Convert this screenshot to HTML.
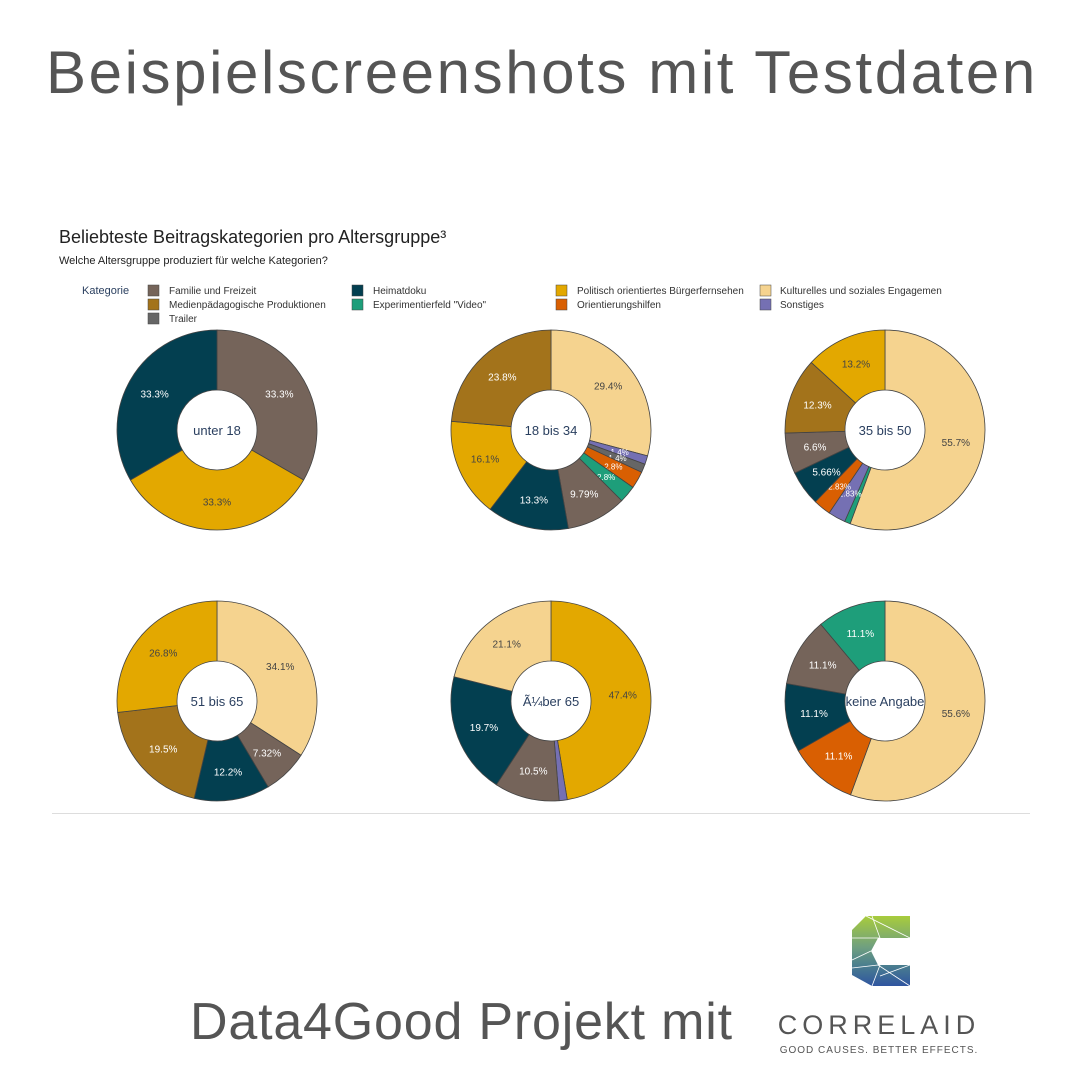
<!DOCTYPE html>
<html><head><meta charset="utf-8"><style>
body{margin:0;width:1080px;height:1080px;background:#fff;position:relative;overflow:hidden;font-family:"Liberation Sans",sans-serif}
.t{position:absolute;color:#555;white-space:nowrap}
</style></head><body>
<div class="t" style="left:46px;top:38px;font-size:60px;letter-spacing:2.6px">Beispielscreenshots mit Testdaten</div>
<div class="t" style="left:190px;top:992px;font-size:52px;letter-spacing:0.8px">Data4Good Projekt mit</div>
<svg id="s" width="1080" height="1080" style="position:absolute;left:0;top:0" font-family="Liberation Sans, sans-serif">
<defs><linearGradient id="lg" x1="0" y1="0" x2="0" y2="1"><stop offset="0" stop-color="#a8cc3c"/><stop offset="0.45" stop-color="#6f9f80"/><stop offset="0.7" stop-color="#4b7f8e"/><stop offset="1" stop-color="#2f55a0"/></linearGradient></defs>
<text x="59" y="243" font-size="18" fill="#222">Beliebteste Beitragskategorien pro Altersgruppe³</text>
<text x="59" y="264" font-size="11" fill="#222">Welche Altersgruppe produziert für welche Kategorien?</text>
<g font-size="10" fill="#333">
<text x="82" y="294" font-size="11" fill="#2a3f5f">Kategorie</text>
<rect x="148" y="285" width="11" height="11" fill="#75645a" stroke="#444" stroke-width=".5"/><text x="169" y="294">Familie und Freizeit</text>
<rect x="148" y="299" width="11" height="11" fill="#a3731b" stroke="#444" stroke-width=".5"/><text x="169" y="308">Medienpädagogische Produktionen</text>
<rect x="148" y="313" width="11" height="11" fill="#666" stroke="#444" stroke-width=".5"/><text x="169" y="322">Trailer</text>
<rect x="352" y="285" width="11" height="11" fill="#033f50" stroke="#444" stroke-width=".5"/><text x="373" y="294">Heimatdoku</text>
<rect x="352" y="299" width="11" height="11" fill="#1e9e7a" stroke="#444" stroke-width=".5"/><text x="373" y="308">Experimentierfeld "Video"</text>
<rect x="556" y="285" width="11" height="11" fill="#e3a800" stroke="#444" stroke-width=".5"/><text x="577" y="294">Politisch orientiertes Bürgerfernsehen</text>
<rect x="556" y="299" width="11" height="11" fill="#d95f02" stroke="#444" stroke-width=".5"/><text x="577" y="308">Orientierungshilfen</text>
<rect x="760" y="285" width="11" height="11" fill="#f5d38f" stroke="#444" stroke-width=".5"/><text x="780" y="294">Kulturelles und soziales Engagemen</text>
<rect x="760" y="299" width="11" height="11" fill="#7570b3" stroke="#444" stroke-width=".5"/><text x="780" y="308">Sonstiges</text>
</g>
<line x1="52" y1="813.5" x2="1030" y2="813.5" stroke="#ddd"/>
<g id="pies"></g>
<polygon points="866,916 910,916 910,938 878,938 871,951 878,965 910,965 910,986 872,986 852,975 852,930" fill="url(#lg)"/>
<g stroke="#fff" stroke-width="0.8" fill="none">
<path d="M872,916 L880,938 M866,916 L910,938 M852,938 L880,938 M852,960 L871,951 M852,968 L878,965 M880,965 L872,986 M880,976 L910,965 M878,965 L910,986"/>
</g>
<text x="879" y="1034" font-size="27" fill="#555" text-anchor="middle" letter-spacing="5">CORRELAID</text>
<text x="879" y="1053" font-size="10" fill="#555" text-anchor="middle" letter-spacing="1">GOOD CAUSES. BETTER EFFECTS.</text>
</svg>
<script>
const C={fam:"#75645a",hei:"#033f50",pol:"#e3a800",kul:"#f5d38f",med:"#a3731b",exp:"#1e9e7a",ori:"#d95f02",son:"#7570b3",tra:"#666"};
const dark={fam:1,hei:1,med:1,exp:1,ori:1,son:1,tra:1};
const pies=[
[217,430,"unter 18",[["fam",33.3,"33.3%"],["pol",33.3,"33.3%"],["hei",33.3,"33.3%"]]],
[551,430,"18 bis 34",[["kul",29.4,"29.4%"],["son",1.4,"1.4%"],["tra",1.4,"1.4%"],["ori",2.8,"2.8%"],["exp",2.8,"2.8%"],["fam",9.79,"9.79%"],["hei",13.3,"13.3%"],["pol",16.1,"16.1%"],["med",23.8,"23.8%"]]],
[885,430,"35 bis 50",[["kul",55.7,"55.7%"],["exp",0.94,""],["son",2.83,"2.83%"],["ori",2.83,"2.83%"],["hei",5.66,"5.66%"],["fam",6.6,"6.6%"],["med",12.3,"12.3%"],["pol",13.2,"13.2%"]]],
[217,701,"51 bis 65",[["kul",34.1,"34.1%"],["fam",7.32,"7.32%"],["hei",12.2,"12.2%"],["med",19.5,"19.5%"],["pol",26.8,"26.8%"]]],
[551,701,"Ã¼ber 65",[["pol",47.4,"47.4%"],["son",1.3,""],["fam",10.5,"10.5%"],["hei",19.7,"19.7%"],["kul",21.1,"21.1%"]]],
[885,701,"keine Angabe",[["kul",55.6,"55.6%"],["ori",11.1,"11.1%"],["hei",11.1,"11.1%"],["fam",11.1,"11.1%"],["exp",11.1,"11.1%"]]]];
const R=100,r=40,g=document.getElementById("pies");let h="";
for(const [cx,cy,name,sl] of pies){
 const tot=sl.reduce((a,b)=>a+b[1],0);let a=0;
 for(const [k,v,l] of sl){
  const a0=a/tot*2*Math.PI,a1=(a+v)/tot*2*Math.PI;a+=v;
  const P=(ang,rad)=>[cx+rad*Math.sin(ang),cy-rad*Math.cos(ang)];
  const lg=a1-a0>Math.PI?1:0;
  const [x0,y0]=P(a0,R),[x1,y1]=P(a1,R),[x2,y2]=P(a1,r),[x3,y3]=P(a0,r);
  h+=`<path d="M${x0},${y0}A${R},${R} 0 ${lg} 1 ${x1},${y1}L${x2},${y2}A${r},${r} 0 ${lg} 0 ${x3},${y3}Z" fill="${C[k]}" stroke="#444" stroke-width="0.8"/>`;
  if(l){const am=(a0+a1)/2,[lx,ly]=P(am,72);
   const fs=(a1-a0)<0.25?8:10;
   h+=`<text x="${lx}" y="${ly+3.5}" font-size="${fs}" text-anchor="middle" fill="${dark[k]?'#fff':'#444'}">${l}</text>`;}
 }
 h+=`<text x="${cx}" y="${cy+5}" font-size="13" text-anchor="middle" fill="#2a3f5f">${name}</text>`;
}
g.innerHTML=h;
</script>
</body></html>
